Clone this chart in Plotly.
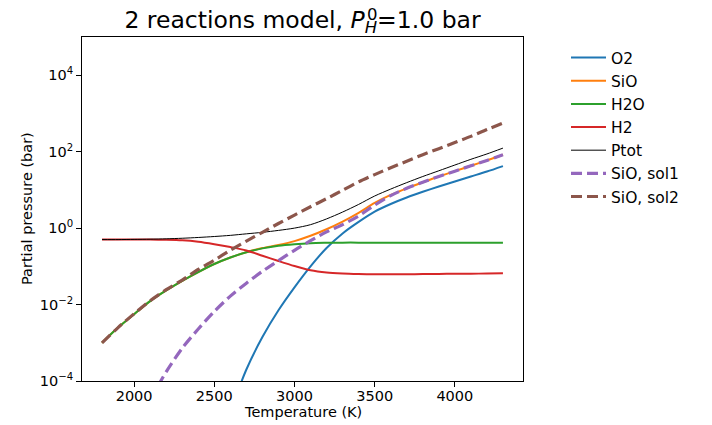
import plotly.graph_objects as go

# Temperature grid (K)
T = [1800, 1900, 2000, 2100, 2200, 2300, 2400, 2500, 2600, 2700, 2800, 2900, 3000,
     3100, 3200, 3300, 3400, 3500, 3600, 3700, 3800, 3900, 4000, 4100, 4200, 4300]

# Partial pressures (bar)
O2 = [None, None, None, None, None, None, None, None, 1.58e-5, 2.0e-4, 1.41e-3, 7.08e-3, 0.0282,
      0.100, 0.302, 0.724, 1.45, 2.69, 4.27, 6.31, 8.91, 12.3, 16.6, 22.4, 30.2, 42.0]
SiO = [0.0010, 0.0025, 0.0056, 0.0123, 0.0234, 0.0417, 0.0708, 0.115, 0.170, 0.234, 0.300, 0.363, 0.457,
       0.631, 0.933, 1.48, 2.51, 4.57, 7.41, 11.0, 15.8, 22.4, 30.9, 42.7, 58.9, 83.0]
H2O = [0.0010, 0.0025, 0.0056, 0.0123, 0.0234, 0.0417, 0.0708, 0.115, 0.170, 0.234, 0.295, 0.347, 0.380,
       0.403, 0.412, 0.417, 0.417, 0.417, 0.417, 0.417, 0.417, 0.417, 0.417, 0.417, 0.417, 0.417]
H2 = [0.50, 0.50, 0.50, 0.50, 0.495, 0.48, 0.44, 0.38, 0.32, 0.26, 0.19, 0.138, 0.102,
      0.079, 0.069, 0.065, 0.063, 0.062, 0.062, 0.062, 0.063, 0.063, 0.064, 0.064, 0.065, 0.066]
Ptot = [0.501, 0.501, 0.507, 0.513, 0.525, 0.543, 0.569, 0.603, 0.646, 0.708, 0.776, 0.871, 1.0,
        1.23, 1.74, 2.63, 4.17, 6.92, 10.5, 15.5, 22.4, 31.6, 44.7, 63.1, 87.1, 124.0]
SiO_sol1 = [None, None, None, 3.16e-5, 1.74e-4, 7.24e-4, 2.29e-3, 6.61e-3, 0.0166, 0.0363, 0.0741, 0.141, 0.263,
            0.468, 0.794, 1.23, 2.09, 3.98, 7.08, 11.0, 15.8, 22.4, 30.9, 42.7, 58.9, 83.0]
SiO_sol2 = [0.0010, 0.0025, 0.00575, 0.0126, 0.0245, 0.0437, 0.0832, 0.145, 0.263, 0.457, 0.776, 1.32, 2.19,
            3.63, 5.89, 9.77, 16.2, 25.1, 38.0, 56.2, 83.2, 120.0, 174.0, 251.0, 380.0, 560.0]

x_ticks = [2000, 2500, 3000, 3500, 4000]
y_ticks = [1e-4, 1e-2, 1, 1e2, 1e4]
y_ticktext = ["10<sup>\u22124</sup>", "10<sup>\u22122</sup>", "10<sup>0</sup>", "10<sup>2</sup>", "10<sup>4</sup>"]

series = [
    ("O2", O2, "#1f77b4", 2, "solid"),
    ("SiO", SiO, "#ff7f0e", 2, "solid"),
    ("H2O", H2O, "#2ca02c", 2, "solid"),
    ("H2", H2, "#d62728", 2, "solid"),
    ("Ptot", Ptot, "black", 1, "solid"),
    ("SiO, sol1", SiO_sol1, "#9467bd", 3.2, "11px,5px"),
    ("SiO, sol2", SiO_sol2, "#8c564b", 3.2, "11px,5px"),
]

fig = go.Figure()
for name, vals, color, w, dash in series:
    fig.add_trace(go.Scatter(x=T, y=vals, name=name, mode="lines",
                             line=dict(color=color, width=w, dash=dash, shape="spline", smoothing=0.8),
                             connectgaps=False))

font_family = "DejaVu Sans, Verdana, sans-serif"
L, R, TOP, B = 82, 189, 37, 44
W, H = 712, 425
pw = W - L - R
ph = H - TOP - B

# superscript "0" stacked above the subscript H in the title
fig.add_annotation(text="0", x=(365 - L) / pw, xref="paper", xanchor="left",
                   y=1 + (TOP - 14) / ph, yref="paper", yanchor="middle",
                   showarrow=False, font=dict(size=16.5, family=font_family, color="black"))
# axis titles
fig.add_annotation(text="Temperature (K)", x=0.5, xref="paper", xanchor="center",
                   y=(H - B - 412) / ph, yref="paper", yanchor="middle",
                   showarrow=False, font=dict(size=14.5, family=font_family, color="black"))
fig.add_annotation(text="Partial pressure (bar)", x=(27 - L) / pw, xref="paper", xanchor="center",
                   y=0.5, yref="paper", yanchor="middle", textangle=-90,
                   showarrow=False, font=dict(size=14.5, family=font_family, color="black"))

fig.update_layout(
    width=W, height=H,
    margin=dict(l=L, r=R, t=TOP, b=B, autoexpand=False),
    paper_bgcolor="white", plot_bgcolor="white",
    font=dict(family=font_family, size=14.5, color="black"),
    title=dict(text="2 reactions model, <i>P</i><sub><i>H</i></sub>=1.0 bar",
               x=0.5, xref="paper", xanchor="center",
               y=1 - 20 / H, yref="container", yanchor="middle", automargin=False,
               font=dict(size=23.5, family=font_family, color="black")),
    xaxis=dict(range=[1675, 4425], tickvals=x_ticks, ticks="outside", ticklen=5, tickcolor="black",
               showline=True, linecolor="black", linewidth=1, mirror=True, showgrid=False, zeroline=False,
               automargin=False, tickfont=dict(size=14.5), ticklabelstandoff=-3),
    yaxis=dict(type="log", range=[-4, 5], tickvals=y_ticks, ticktext=y_ticktext, ticks="outside",
               ticklen=5, tickcolor="black", showline=True, linecolor="black", linewidth=1, mirror=True,
               showgrid=False, zeroline=False, automargin=False, tickfont=dict(size=14.5)),
    legend=dict(x=(566 - L) / pw, xanchor="left", y=(H - B - 41) / ph, yanchor="top",
                font=dict(size=15.5), itemwidth=35,
                bgcolor="rgba(0,0,0,0)", borderwidth=0),
)

fig.write_html("out.html", config={"displayModeBar": False},
               post_script="document.body.style.margin='0';document.body.style.overflow='hidden';")
